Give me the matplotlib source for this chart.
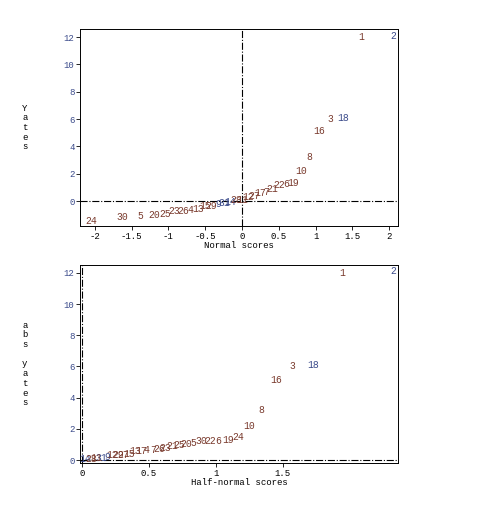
import matplotlib
matplotlib.use("Agg")
import matplotlib.pyplot as plt
from statistics import NormalDist

labels = [24,30,5,20,25,23,26,4,13,15,29,9,31,14,28,11,12,27,17,7,21,22,6,19,10,8,16,3,18,1,2]
yates = [-1.5,-1.2,-1.1,-1.0,-0.95,-0.75,-0.7,-0.65,-0.6,-0.4,-0.35,-0.2,-0.15,-0.05,0.05,0.1,
         0.3,0.35,0.6,0.65,0.9,1.2,1.25,1.3,2.2,3.2,5.1,6.0,6.1,12.0,12.1]
blue_labels = {18, 2, 31, 14, 9}

n = len(yates)
nd = NormalDist()
order = sorted(range(n), key=lambda i: yates[i])
nscore = [0]*n
for r, i in enumerate(order):
    nscore[i] = nd.inv_cdf((r+1-0.375)/(n+0.25))
aorder = sorted(range(n), key=lambda i: abs(yates[i]))
hscore = [0]*n
for r, i in enumerate(aorder):
    hscore[i] = nd.inv_cdf(0.5+0.5*(r+1-0.375)/(n+0.25))

fam = 'Liberation Mono'
brown = '#7a3b2e'; blue = '#3a4a8a'
fig = plt.figure(figsize=(4.8,5.26), dpi=100)
ax1 = fig.add_axes([80/480, 1-226/526, 318/480, 197/526])
ax2 = fig.add_axes([80/480, 1-463/526, 318/480, 198/526])

def lab(ax, xs, ys, txt):
    for x, y, t in zip(xs, ys, txt):
        ax.text(x, y, str(t), fontsize=7, family=fam, color=blue if t in blue_labels else brown,
                ha='center', va='center')

lab(ax1, nscore, yates, labels)
ax1.set_xlim(-2.2, 2.12); ax1.set_ylim(-1.83, 12.6)
ax1.axhline(0, color='k', ls='-.', lw=0.8); ax1.axvline(0, color='k', ls='-.', lw=0.8)
ax1.set_xticks([-2,-1.5,-1,-0.5,0,0.5,1,1.5,2]); ax1.set_xticklabels(['-2','-1.5','-1','-0.5','0','0.5','1','1.5','2'])
ax1.set_yticks([0,2,4,6,8,10,12])
ax1.set_xlabel('Normal scores', family=fam, fontsize=6.5, labelpad=0)
ax1.set_ylabel('Y\na\nt\ne\ns', family=fam, fontsize=6.5, rotation=0, va='center', labelpad=28, linespacing=1.1)

absv = [abs(v) for v in yates]
lab(ax2, hscore, absv, labels)
ax2.set_xlim(-0.015, 2.36); ax2.set_ylim(-0.19, 12.5)
ax2.axhline(0, color='k', ls='-.', lw=0.8); ax2.axvline(0, color='k', ls='-.', lw=0.8)
ax2.set_xticks([0,0.5,1,1.5]); ax2.set_xticklabels(['0','0.5','1','1.5'])
ax2.set_yticks([0,2,4,6,8,10,12])
ax2.set_xlabel('Half-normal scores', family=fam, fontsize=6.5, labelpad=0)
ax2.set_ylabel('a\nb\ns\n\ny\na\nt\ne\ns', family=fam, fontsize=6.5, rotation=0, va='center', labelpad=28, linespacing=1.1)

for ax in (ax1, ax2):
    ax.tick_params(labelsize=6.5, length=3, width=0.6, pad=1)
    for t in ax.get_yticklabels(): t.set_color(blue); t.set_family(fam)
    for t in ax.get_xticklabels(): t.set_family(fam)
    for s in ax.spines.values(): s.set_linewidth(0.7)
fig.savefig('out.png', dpi=100)
